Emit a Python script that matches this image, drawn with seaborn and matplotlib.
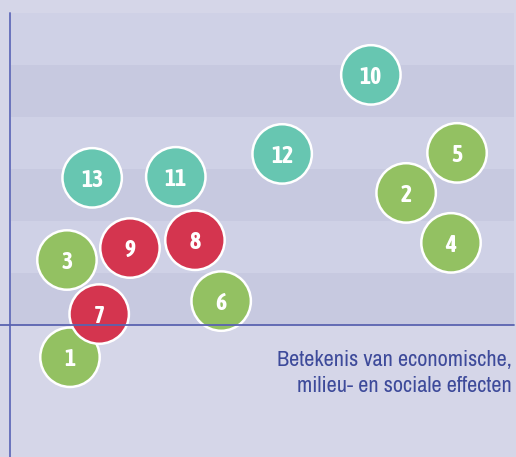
import matplotlib
matplotlib.use("Agg")
import matplotlib.pyplot as plt
import seaborn as sns
import pandas as pd
from matplotlib.lines import Line2D
from matplotlib import font_manager as fm

labels = ["1", "2", "3", "4", "5", "6", "7", "8", "9", "10", "11", "12", "13"]
x_vals = [1.19, 7.86, 1.13, 8.75, 8.87, 4.19, 1.77, 3.67, 2.38, 7.16, 3.29, 5.40, 1.63]
y_vals = [-0.62, 2.54, 1.25, 1.58, 3.31, 0.46, 0.21, 1.63, 1.48, 4.81, 2.85, 3.29, 2.83]
groups = ["groen", "groen", "groen", "groen", "groen", "groen", "rood", "rood", "rood",
          "turkoois", "turkoois", "turkoois", "turkoois"]
palette = {"groen": "#93C162", "rood": "#D4354F", "turkoois": "#67C6B1"}
axis_title = "Betekenis van economische,\nmilieu- en sociale effecten"

df = pd.DataFrame({"x": x_vals, "y": y_vals, "label": labels, "groep": groups})

sns.set_style("white")
plt.rcParams["font.family"] = ["DejaVu Sans"]


def find_font(bold):
    best = None
    for f in fm.fontManager.ttflist:
        nm = f.name.lower()
        fn = f.fname.lower()
        is_cond = ("condensed" in str(f.stretch).lower() or "narrow" in nm or "condensed" in nm
                   or "condensed" in fn or "narrow" in fn)
        if not is_cond or "oblique" in fn or "italic" in fn:
            continue
        if ("bold" in fn) != bold:
            continue
        score = 0 if "dejavu" in fn else 1
        if best is None or score > best[0]:
            best = (score, f.fname)
    if best is None:
        return fm.FontProperties(family="DejaVu Sans", weight="bold" if bold else "normal",
                                 stretch="condensed")
    return fm.FontProperties(fname=best[1])


fp_reg = find_font(False)
fp_bold = find_font(True)

fig = plt.figure(figsize=(5.16, 4.57), dpi=100)
fig.patch.set_facecolor("#D5D6E8")
ax = fig.add_axes([10 / 516, (457 - 325) / 457, 504 / 516, 312 / 457])
ax.set_xlim(0, 10)
ax.set_ylim(0, 6)
ax.set_facecolor("none")
for s in ax.spines.values():
    s.set_visible(False)
ax.set_xticks([])
ax.set_yticks([])

band_colors = ["#C7C9E0", "#CFD1E6"]
for i in range(6):
    ax.axhspan(i, i + 1, color=band_colors[i % 2], zorder=0, lw=0)

# axis lines
fig.add_artist(Line2D([10 / 516, 10 / 516], [0, (457 - 13) / 457], color="#6A73BC", lw=1.4,
                      transform=fig.transFigure, zorder=1))
fig.add_artist(Line2D([0, 514 / 516], [(457 - 325) / 457] * 2, color="#5A63B0", lw=1.3,
                      transform=fig.transFigure, zorder=1))

sns.scatterplot(data=df, x="x", y="y", hue="groep", palette=palette, s=1830,
                edgecolor="white", linewidth=1.8, legend=False, ax=ax, clip_on=False, zorder=3)
for xv, yv, lab in zip(df["x"], df["y"], df["label"]):
    ax.text(xv, yv, lab, ha="center", va="center_baseline", color="white",
            fontproperties=fp_bold, fontsize=17, zorder=4, clip_on=False)

ax.set_xlabel("")
ax.set_ylabel("")
fig.text(512 / 516, (457 - 350) / 457, axis_title, ha="right", va="top", color="#3D4A9A",
         fontproperties=fp_reg, fontsize=16, linespacing=1.4)

fig.savefig("out.png", dpi=100, facecolor=fig.get_facecolor())
